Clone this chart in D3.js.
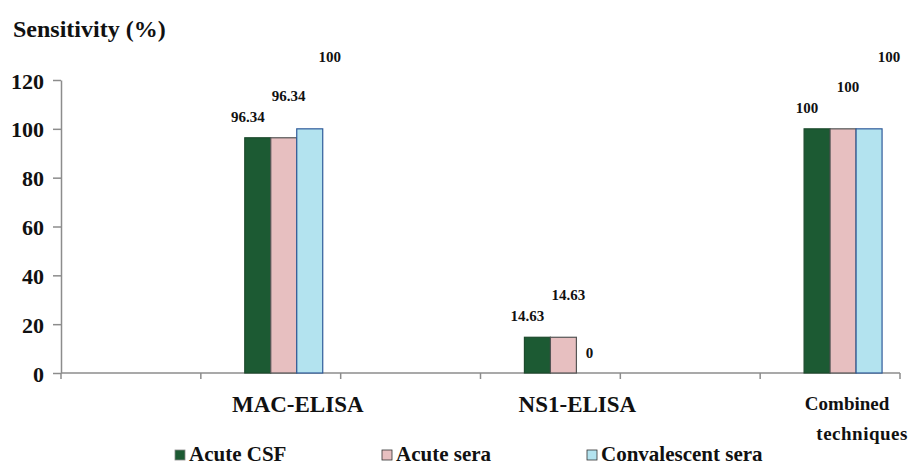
<!DOCTYPE html>
<meta charset="utf-8">
<style>
    body { margin: 0; background: #fff; }
</style>
<body>
<script src="https://d3js.org/d3.v7.min.js"></script>
<script>
    // data
    var categories = ["MAC-ELISA", "NS1-ELISA", "Combined techniques"];
    // excel-like slots: empty slot before each category
    var slots = ["", "MAC-ELISA", "", "NS1-ELISA", "", "Combined techniques"];
    var seriesNames = ["Acute CSF", "Acute sera", "Convalescent sera"];
    var acuteCSF = [96.34, 14.63, 100];
    var acuteSera = [96.34, 14.63, 100];
    var convalescentSera = [100, 0, 100];
    var yTicks = [0, 20, 40, 60, 80, 100, 120];

    var seriesValues = [acuteCSF, acuteSera, convalescentSera];
    var colors = ["#1c5a33", "#e7bfc0", "#b3e3ef"];
    var borders = ["#1c4a2c", "#555555", "#2f5b9a"];
    // manual label offsets per series (dx, dy from bar top center)
    var labelOffset = [[-10, -16], [5, -37], [20, -67]];

    var FONT = "'Liberation Serif', 'Times New Roman', serif";

    var W = 920, H = 466;
    var margin = {top: 80, right: 20, bottom: 93, left: 61};

    var svg = d3.select("body").append("svg")
        .attr("width", W)
        .attr("height", H)
        .attr("font-family", "Liberation Serif");

    var x = d3.scaleBand().domain(d3.range(slots.length)).range([margin.left, 900]).padding(0);
    var sub = d3.scaleBand().domain(["", ...seriesNames]).range([0, x.bandwidth()]).paddingInner(0).paddingOuter(0.69);
    var y = d3.scaleLinear().domain([0, 120]).range([H - margin.bottom, margin.top]);

    // bold serif text, placed with a translate like a plain group would be
    function place(sel, px, py, size) {
        sel.attr("font-family", "Liberation Serif")
            .style("font-family", FONT)
            .style("font-weight", "bold")
            .style("font-size", size + "px")
            .attr("fill", "#111")
            .attr("x", null).attr("y", null).attr("dy", null)
            .attr("transform", "translate(" + px + "," + py + ")");
    }

    // y axis
    var yAxis = svg.append("g")
        .attr("transform", "translate(" + margin.left + ",0)")
        .call(d3.axisLeft(y).tickValues(yTicks).tickSize(8).tickSizeOuter(0));
    yAxis.attr("font-family", null).attr("font-size", null);
    yAxis.selectAll("path, line").attr("stroke", "#8c8c8c").attr("stroke-width", 1.5);
    yAxis.selectAll("text")
        .attr("text-anchor", "end")
        .each(function() { place(d3.select(this), -17, 8, 22); });

    // x axis (slot boundaries)
    var bounds = d3.range(slots.length + 1).map(function(i) { return margin.left + i * x.step(); });
    svg.append("line")
        .attr("x1", margin.left).attr("x2", x.range()[1])
        .attr("y1", y(0)).attr("y2", y(0))
        .attr("stroke", "#8c8c8c")
        .attr("stroke-width", 1.5);
    svg.append("g").selectAll("line")
        .data(bounds)
        .join("line")
        .attr("x1", function(d) { return d; })
        .attr("x2", function(d) { return d; })
        .attr("y1", y(0))
        .attr("y2", y(0) + 6)
        .attr("stroke", "#8c8c8c")
        .attr("stroke-width", 1.5);

    // bars
    var bars = [];
    categories.forEach(function(c, ci) {
        seriesNames.forEach(function(s, si) {
            bars.push({cat: c, slot: slots.indexOf(c), series: s, si: si, value: seriesValues[si][ci]});
        });
    });

    svg.append("g").selectAll("rect")
        .data(bars.filter(function(d) { return d.value > 0; }))
        .join("rect")
        .attr("x", function(d) { return x(d.slot) + sub(d.series); })
        .attr("y", function(d) { return y(d.value); })
        .attr("width", sub.bandwidth())
        .attr("height", function(d) { return y(0) - y(d.value); })
        .attr("fill", function(d) { return colors[d.si]; })
        .attr("stroke", function(d) { return borders[d.si]; })
        .attr("stroke-width", 1.2);

    // value labels
    svg.append("g").selectAll("text")
        .data(bars)
        .join("text")
        .attr("text-anchor", "middle")
        .text(function(d) { return d.value; })
        .each(function(d) {
            var cx = x(d.slot) + sub(d.series) + sub.bandwidth() / 2;
            var off = d.value === 0 ? [0, -15] : labelOffset[d.si];
            place(d3.select(this), cx + off[0], y(d.value) + off[1], 15);
        });

    // category labels
    categories.forEach(function(c) {
        var cx = x(slots.indexOf(c)) + x.bandwidth() / 2;
        if (c === "Combined techniques") {
            place(svg.append("text").attr("text-anchor", "middle").text("Combined"), cx + 17, 410, 19);
            place(svg.append("text").attr("text-anchor", "middle")
                .style("letter-spacing", "0.5px").text("techniques"), cx + 32, 440, 19);
        } else {
            place(svg.append("text").attr("text-anchor", "middle").text(c), cx + 27, 412, 23);
        }
    });

    // y title
    place(svg.append("text").text("Sensitivity (%)"), 13, 37, 24);

    // legend
    var legendX = [175, 382, 587];
    var legend = svg.append("g").selectAll("g")
        .data(seriesNames)
        .join("g")
        .attr("transform", function(d, i) { return "translate(" + legendX[i] + ",450)"; });
    legend.append("rect")
        .attr("width", 10).attr("height", 10)
        .attr("fill", function(d, i) { return colors[i]; })
        .attr("stroke", function(d, i) { return i === 0 ? "#888" : "#333"; })
        .attr("stroke-width", 0.8);
    legend.append("text")
        .text(function(d) { return d; })
        .each(function() { place(d3.select(this), 14, 11, 21); });
</script>
</body>
